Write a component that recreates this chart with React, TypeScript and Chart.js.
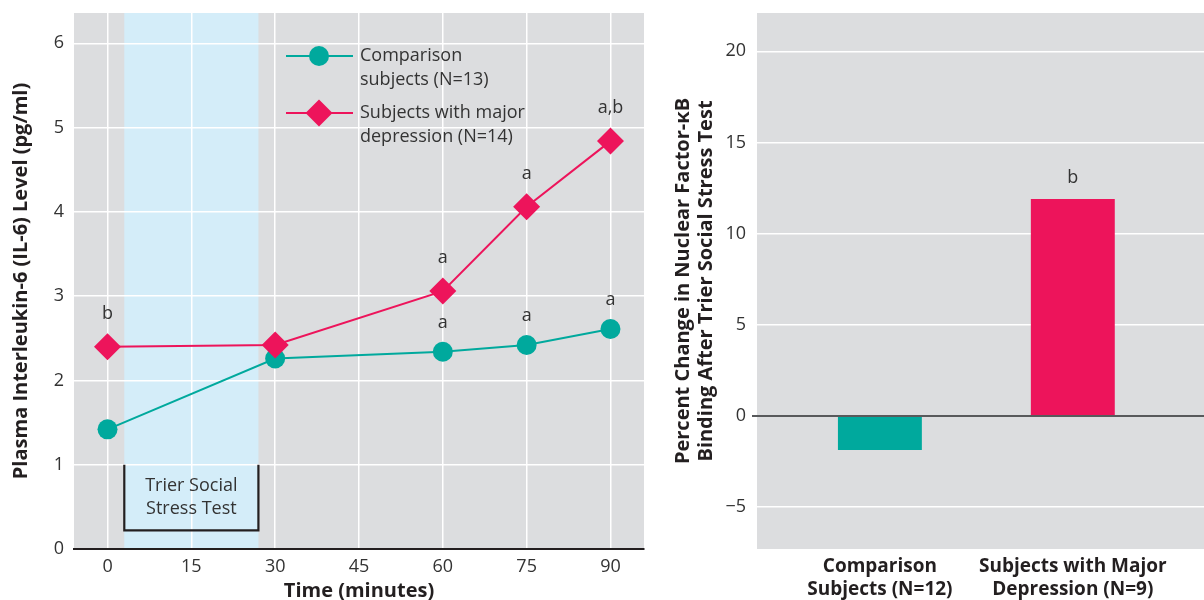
import React, { useEffect, useRef } from "react";
import { Chart, registerables } from "chart.js";

Chart.register(...registerables);

// ---------- Left chart data ----------
const timePoints = [0, 30, 60, 75, 90];
const comparisonIL6 = [1.42, 2.26, 2.34, 2.42, 2.61];
const depressionIL6 = [2.4, 2.42, 3.06, 4.06, 4.84];
const comparisonMarks = ["", "", "a", "a", "a"];
const depressionMarks = ["b", "", "a", "a", "a,b"];
const comparisonLegend = ["Comparison", "subjects (N=13)"];
const depressionLegend = ["Subjects with major", "depression (N=14)"];
const timeTicks = [0, 15, 30, 45, 60, 75, 90];
const il6Ticks = [0, 1, 2, 3, 4, 5, 6];
const stressWindow = [3, 27];
const stressLabel = ["Trier Social", "Stress Test"];
const bracketLevels = [1, 0.22];

// ---------- Right chart data ----------
const groupPositions = [1, 2];
const groupLabels = [
  ["Comparison", "Subjects (N=12)"],
  ["Subjects with Major", "Depression (N=9)"],
];
const nfkbChange = [-1.87, 11.9];
const nfkbMarks = ["", "b"];
const nfkbTicks = [-5, 0, 5, 10, 15, 20];

// ---------- Styles ----------
const FAMILY = "'Open Sans', 'Noto Sans', sans-serif";
const TEAL = "#00a99d";
const PINK = "#ed145b";
const PANEL = "#dcdddf";
const BAND = "#d4edf9";
const TEXT = "#333333";
const DARK = "#231f20";

const tickFont = { family: FAMILY, size: 18 };
const titleFont = { family: FAMILY, size: 20, weight: "bold" as const };

const zeroPadX = (s: any) => {
  s.paddingLeft = 0;
  s.paddingRight = 0;
};
const zeroPadY = (s: any) => {
  s.paddingTop = 0;
  s.paddingBottom = 0;
};

const leftPlugin = {
  id: "leftDecor",
  beforeDraw(chart: any) {
    const { ctx, chartArea } = chart;
    const xs = chart.scales.x;
    ctx.save();
    ctx.fillStyle = PANEL;
    ctx.fillRect(chartArea.left, chartArea.top, chartArea.right - chartArea.left, chartArea.bottom - chartArea.top);
    const b0 = xs.getPixelForValue(stressWindow[0]);
    const b1 = xs.getPixelForValue(stressWindow[1]);
    ctx.fillStyle = BAND;
    ctx.fillRect(b0, chartArea.top, b1 - b0, chartArea.bottom - chartArea.top);
    ctx.restore();
  },
  beforeDatasetsDraw(chart: any) {
    const { ctx } = chart;
    const xs = chart.scales.x;
    const ys = chart.scales.y;
    const x0 = xs.getPixelForValue(stressWindow[0]);
    const x1 = xs.getPixelForValue(stressWindow[1]);
    const yTop = ys.getPixelForValue(bracketLevels[0]);
    const yBot = ys.getPixelForValue(bracketLevels[1]);
    ctx.save();
    ctx.strokeStyle = DARK;
    ctx.lineWidth = 2.2;
    ctx.beginPath();
    ctx.moveTo(x0, yTop);
    ctx.lineTo(x0, yBot);
    ctx.lineTo(x1, yBot);
    ctx.lineTo(x1, yTop);
    ctx.stroke();
    ctx.fillStyle = TEXT;
    ctx.font = `18px ${FAMILY}`;
    ctx.textAlign = "center";
    ctx.textBaseline = "middle";
    const cx = (x0 + x1) / 2;
    const cy = (yTop + yBot) / 2;
    ctx.fillText(stressLabel[0], cx, cy - 11.5);
    ctx.fillText(stressLabel[1], cx, cy + 11.5);
    ctx.restore();
  },
  afterDatasetsDraw(chart: any) {
    const { ctx } = chart;
    ctx.save();
    ctx.fillStyle = TEXT;
    ctx.font = `18px ${FAMILY}`;
    ctx.textAlign = "center";
    ctx.textBaseline = "middle";
    const sets = [
      { idx: 0, marks: comparisonMarks, off: 29 },
      { idx: 1, marks: depressionMarks, off: 33 },
    ];
    sets.forEach((s) => {
      const meta = chart.getDatasetMeta(s.idx);
      meta.data.forEach((pt: any, i: number) => {
        if (s.marks[i]) ctx.fillText(s.marks[i], pt.x, pt.y - s.off);
      });
    });

    // legend
    const { chartArea } = chart;
    const lx0 = chartArea.left + 212;
    const lx1 = chartArea.left + 279;
    const mx = chartArea.left + 245;
    const tx = chartArea.left + 286;
    const entries = [
      { color: TEAL, shape: "circle", text: comparisonLegend, y: chartArea.top + 43 },
      { color: PINK, shape: "diamond", text: depressionLegend, y: chartArea.top + 100 },
    ];
    entries.forEach((e) => {
      ctx.strokeStyle = e.color;
      ctx.lineWidth = 2;
      ctx.beginPath();
      ctx.moveTo(lx0, e.y);
      ctx.lineTo(lx1, e.y);
      ctx.stroke();
      ctx.fillStyle = e.color;
      ctx.beginPath();
      if (e.shape === "circle") {
        ctx.arc(mx, e.y, 10, 0, Math.PI * 2);
      } else {
        const r = 13.5;
        ctx.moveTo(mx - r, e.y);
        ctx.lineTo(mx, e.y - r);
        ctx.lineTo(mx + r, e.y);
        ctx.lineTo(mx, e.y + r);
        ctx.closePath();
      }
      ctx.fill();
      ctx.fillStyle = TEXT;
      ctx.textAlign = "left";
      ctx.fillText(e.text[0], tx, e.y);
      ctx.fillText(e.text[1], tx, e.y + 24);
    });
    ctx.restore();
  },
};

const rightPlugin = {
  id: "rightDecor",
  beforeDraw(chart: any) {
    const { ctx, chartArea } = chart;
    ctx.save();
    ctx.fillStyle = PANEL;
    ctx.fillRect(chartArea.left, chartArea.top, chartArea.right - chartArea.left, chartArea.bottom - chartArea.top);
    ctx.restore();
  },
  afterDatasetsDraw(chart: any) {
    const { ctx } = chart;
    const meta = chart.getDatasetMeta(0);
    ctx.save();
    ctx.fillStyle = TEXT;
    ctx.font = `18px ${FAMILY}`;
    ctx.textAlign = "center";
    ctx.textBaseline = "middle";
    meta.data.forEach((bar: any, i: number) => {
      if (nfkbMarks[i]) ctx.fillText(nfkbMarks[i], bar.x, bar.y - 21);
    });
    ctx.restore();
  },
};

function leftConfig(): any {
  return {
    type: "line",
    data: {
      datasets: [
        {
          label: comparisonLegend.join(" "),
          data: timePoints.map((t, i) => ({ x: t, y: comparisonIL6[i] })),
          borderColor: TEAL,
          backgroundColor: TEAL,
          borderWidth: 2,
          pointStyle: "circle",
          pointRadius: 10,
          pointHoverRadius: 10,
          pointBorderWidth: 0,
          tension: 0,
          order: 2,
        },
        {
          label: depressionLegend.join(" "),
          data: timePoints.map((t, i) => ({ x: t, y: depressionIL6[i] })),
          borderColor: PINK,
          backgroundColor: PINK,
          borderWidth: 2,
          pointStyle: "rectRot",
          pointRadius: 13.5,
          pointHoverRadius: 13.5,
          pointBorderWidth: 0,
          tension: 0,
          order: 1,
        },
      ],
    },
    options: {
      responsive: false,
      animation: false,
      events: [],
      layout: { autoPadding: false, padding: { top: 13, right: 6, left: 0, bottom: 0 } },
      plugins: { legend: { display: false }, tooltip: { enabled: false } },
      scales: {
        x: {
          type: "linear",
          min: -6,
          max: 96,
          afterBuildTicks: (s: any) => {
            s.ticks = timeTicks.map((v) => ({ value: v }));
          },
          afterFit: (s: any) => {
            s.height = 51;
            zeroPadX(s);
          },
          grid: { color: "#ffffff", lineWidth: 1.5, drawTicks: false },
          border: { display: true, color: DARK, width: 2, z: 1 },
          ticks: { padding: 7, font: tickFont, color: TEXT, autoSkip: false, maxRotation: 0 },
          title: {
            display: true,
            text: "Time (minutes)",
            font: titleFont,
            color: DARK,
            padding: { top: 0, bottom: -3 },
          },
        },
        y: {
          type: "linear",
          min: 0,
          max: 6.36,
          afterBuildTicks: (s: any) => {
            s.ticks = il6Ticks.map((v) => ({ value: v }));
          },
          afterFit: (s: any) => {
            s.width = 74;
            zeroPadY(s);
          },
          grid: {
            color: (c: any) => (c.tick && c.tick.value === 0 ? "rgba(0,0,0,0)" : "#ffffff"),
            lineWidth: 1.5,
            drawTicks: false,
          },
          border: { display: false },
          ticks: { padding: 10, font: tickFont, color: TEXT },
          title: {
            display: true,
            text: "Plasma Interleukin-6 (IL-6) Level (pg/ml)",
            font: titleFont,
            color: DARK,
            padding: { top: 9, bottom: 0 },
          },
        },
      },
    },
    plugins: [leftPlugin],
  };
}

function rightConfig(): any {
  return {
    type: "bar",
    data: {
      datasets: [
        {
          label: "Percent change",
          data: groupPositions.map((x, i) => ({ x, y: nfkbChange[i] })),
          backgroundColor: [TEAL, PINK],
          borderWidth: 0,
          barPercentage: 0.435,
          categoryPercentage: 1,
        },
      ],
    },
    options: {
      responsive: false,
      animation: false,
      events: [],
      layout: { autoPadding: false, padding: { top: 13, right: 0, left: 0, bottom: 0 } },
      plugins: { legend: { display: false }, tooltip: { enabled: false } },
      scales: {
        x: {
          type: "linear",
          min: 0.363,
          max: 2.68,
          offset: false,
          afterBuildTicks: (s: any) => {
            s.ticks = groupPositions.map((v) => ({ value: v }));
          },
          afterFit: (s: any) => {
            s.height = 51;
            zeroPadX(s);
          },
          grid: { display: false, offset: false, drawTicks: false },
          border: { display: false },
          ticks: {
            padding: 6.5,
            font: { family: FAMILY, size: 19, weight: "bold", lineHeight: "23px" },
            color: DARK,
            autoSkip: false,
            maxRotation: 0,
            callback: (v: number) => {
              const i = groupPositions.indexOf(v);
              return i >= 0 ? groupLabels[i] : "";
            },
          },
        },
        y: {
          type: "linear",
          min: -7.3,
          max: 22.1,
          afterBuildTicks: (s: any) => {
            s.ticks = nfkbTicks.map((v) => ({ value: v }));
          },
          afterFit: (s: any) => {
            s.width = 107;
            zeroPadY(s);
          },
          grid: {
            color: (c: any) => (c.tick && c.tick.value === 0 ? "#58595b" : "#ffffff"),
            lineWidth: (c: any) => (c.tick && c.tick.value === 0 ? 2 : 1.5),
            drawTicks: true,
            tickLength: 5,
          },
          border: { display: false },
          ticks: {
            padding: 6,
            font: tickFont,
            color: TEXT,
            callback: (v: number) => (v < 0 ? "\u2212" + Math.abs(v) : String(v)),
          },
          title: {
            display: true,
            text: ["Percent Change in Nuclear Factor-\u03baB", "Binding After Trier Social Stress Test"],
            font: { family: FAMILY, size: 20, weight: "bold", lineHeight: "23px" },
            color: DARK,
            padding: { top: 21.5, bottom: 0 },
          },
        },
      },
    },
    plugins: [rightPlugin],
  };
}

export default function App() {
  const leftRef = useRef<HTMLCanvasElement>(null);
  const rightRef = useRef<HTMLCanvasElement>(null);

  useEffect(() => {
    const c1 = new Chart(leftRef.current as HTMLCanvasElement, leftConfig());
    const c2 = new Chart(rightRef.current as HTMLCanvasElement, rightConfig());
    return () => {
      c1.destroy();
      c2.destroy();
    };
  }, []);

  return (
    <div style={{ position: "absolute", left: 0, top: 0, width: 1204, height: 600, background: "#fff" }}>
      <div style={{ position: "absolute", left: 0, top: 0, width: 650, height: 600 }}>
        <canvas ref={leftRef} width={650} height={600} style={{ display: "block" }} />
      </div>
      <div style={{ position: "absolute", left: 650, top: 0, width: 554, height: 600 }}>
        <canvas ref={rightRef} width={554} height={600} style={{ display: "block" }} />
      </div>
    </div>
  );
}
